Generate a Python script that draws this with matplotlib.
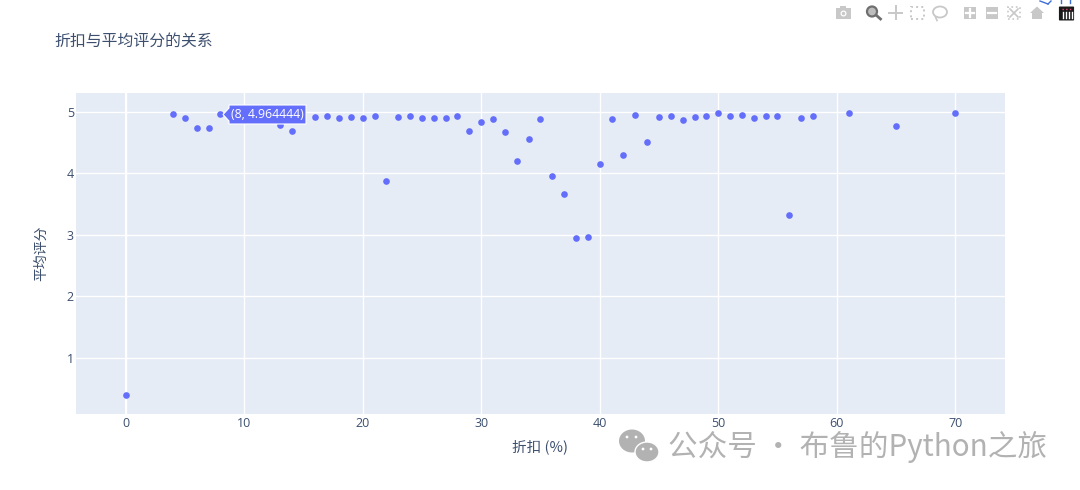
import matplotlib
matplotlib.use("Agg")
import matplotlib.pyplot as plt
from matplotlib.patches import Polygon, Rectangle, Ellipse, FancyBboxPatch
from matplotlib.lines import Line2D

plt.rcParams['font.family'] = ['Noto Sans CJK SC', 'DejaVu Sans']

discount = [0, 4, 5, 6, 7, 8, 13, 14, 16, 17, 18, 19, 20, 21, 22, 23, 24, 25, 26, 27, 28,
            29, 30, 31, 32, 33, 34, 35, 36, 37, 38, 39, 40, 41, 42, 43, 44, 45, 46, 47, 48,
            49, 50, 51, 52, 53, 54, 55, 56, 57, 58, 61, 65, 70]
rating = [0.40, 4.97, 4.90, 4.74, 4.74, 4.964444, 4.79, 4.69, 4.92, 4.93, 4.90, 4.92, 4.90,
          4.94, 3.87, 4.92, 4.93, 4.91, 4.91, 4.91, 4.94, 4.69, 4.83, 4.88, 4.68, 4.20, 4.56,
          4.88, 3.96, 3.67, 2.95, 2.96, 4.16, 4.89, 4.30, 4.95, 4.51, 4.92, 4.94, 4.87, 4.92,
          4.93, 4.99, 4.93, 4.95, 4.91, 4.94, 4.93, 3.32, 4.91, 4.93, 4.99, 4.78, 4.99]
x_ticks = [0, 10, 20, 30, 40, 50, 60, 70]
y_ticks = [1, 2, 3, 4, 5]
title = "折扣与平均评分的关系"
x_label = "折扣 (%)"
y_label = "平均评分"
tooltip = "(8, 4.964444)"
watermark = "公众号 · 布鲁的Python之旅"

W, H = 1080, 490
INK = "#3c4f6e"
MARK = "#636efa"
fig = plt.figure(figsize=(W / 100, H / 100), dpi=100, facecolor="white")
ax = fig.add_axes([76 / W, 1 - 414 / H, (1005 - 76) / W, (414 - 93) / H], facecolor="#e5ecf6")
ax.set_xlim(-4.19, 74.2)
ax.set_ylim(0.083, 5.31)
ax.set_xticks(x_ticks)
ax.set_yticks(y_ticks)
ax.grid(True, color="white", linewidth=1)
ax.set_axisbelow(True)
ax.axvline(0, color="white", linewidth=1.5, zorder=1)
for s in ax.spines.values():
    s.set_visible(False)
ax.tick_params(axis="x", length=0, labelsize=9, labelcolor=INK, pad=2)
ax.tick_params(axis="y", length=0, labelsize=9, labelcolor=INK, pad=1.5)
for lab in ax.get_xticklabels() + ax.get_yticklabels():
    lab.set_family("Open Sans")
ax.scatter(discount, rating, s=23, color=MARK, linewidths=0, zorder=3)


def fx(px):
    return px / W


def fy(py):
    return 1 - py / H


def disc(px, py, w, h, fc, ec="none", lw=1.0, z=5):
    fig.add_artist(Ellipse((fx(px), fy(py)), w / W, h / H, transform=fig.transFigure,
                           facecolor=fc, edgecolor=ec, linewidth=lw, zorder=z))


fig.text(fx(54), fy(41), title, fontsize=11.4, color=INK, va="center", ha="left")
fig.text(fx(540.5), fy(447), x_label, fontsize=10.5, color=INK, va="center", ha="center")
fig.text(fx(41), fy(253), y_label, fontsize=10, color=INK, va="center", ha="center", rotation=90)

# hover label
fig.add_artist(Polygon([(fx(223), fy(114.5)), (fx(229), fy(108)), (fx(229), fy(105)), (fx(306), fy(105)),
                        (fx(306), fy(124)), (fx(229), fy(124)), (fx(229), fy(121))],
                       closed=True, transform=fig.transFigure, facecolor=MARK, edgecolor="white",
                       linewidth=0.8, zorder=5))
fig.text(fx(267.5), fy(114.5), tooltip, fontsize=8.8, color="white", va="center", ha="center", zorder=6,
         family="Open Sans")

# watermark
G = "#b2b2b2"
fig.text(fx(668), fy(447), watermark, fontsize=21.3, color=G, va="center", ha="left", zorder=6)
disc(632, 441, 26, 23, G)
disc(647, 452, 24, 20, G, "white", 1.0)
for px, py in [(627, 437), (636, 437), (643, 449), (651, 449)]:
    disc(px, py, 2.8, 2.8, "white", z=6)

# modebar
T = "#c8c8c8"
D = "#6f6f6f"


def rect(x0, y0, x1, y1, fc, ec="none", ls="-", lw=1.0):
    fig.add_artist(Rectangle((fx(x0), fy(y1)), (x1 - x0) / W, (y1 - y0) / H, transform=fig.transFigure,
                             facecolor=fc, edgecolor=ec, linestyle=ls, linewidth=lw))


def seg(x0, y0, x1, y1, c, lw=1.2, ls="-"):
    fig.add_artist(Line2D([fx(x0), fx(x1)], [fy(y0), fy(y1)], transform=fig.transFigure, color=c,
                          linewidth=lw, linestyle=ls))


rect(836, 8, 851, 19, T)
rect(840, 6.5, 846, 8.5, T)
disc(843.5, 13.5, 6, 6, "white", z=3)
disc(843.5, 13.5, 3.5, 3.5, T, z=3)
disc(872, 11.5, 10, 10, "#bdbdbd", D, 1.6)
seg(876, 15, 880.5, 19, D, 2)
seg(889, 13, 902, 13, T, 1.4)
seg(895.5, 6.5, 895.5, 19.5, T, 1.4)
rect(911, 7, 924, 19, "none", T, ":", 1.4)
disc(940, 12, 14, 11, "none", T, 1.3)
seg(935.5, 17, 937, 20.5, T, 1.2)
rect(964, 7, 976, 19, T)
seg(966, 13, 974, 13, "white", 1.6)
seg(970, 9, 970, 17, "white", 1.6)
rect(986, 7, 998, 19, T)
seg(988, 13, 996, 13, "white", 1.6)
rect(1008, 7, 1020, 19, "none", T, ":", 1.2)
seg(1010, 9, 1018, 17, T, 1.2)
seg(1018, 9, 1010, 17, T, 1.2)
fig.add_artist(Polygon([(fx(1030), fy(13)), (fx(1037), fy(6.5)), (fx(1044), fy(13)), (fx(1042), fy(13)),
                        (fx(1042), fy(19)), (fx(1032), fy(19)), (fx(1032), fy(13))],
                       closed=True, transform=fig.transFigure, facecolor=T, edgecolor="none"))
fig.add_artist(FancyBboxPatch((fx(1060), fy(20)), 13 / W, 13 / H, boxstyle="round,pad=0.001",
                              transform=fig.transFigure, facecolor="#1a1a1a", edgecolor="none"))
for px in (1063, 1066, 1069, 1072):
    seg(px, 12, px, 18, "white", 1.0)
seg(1062, 9, 1072, 9, "#e0457b", 1.0, ":")
seg(1040, 1, 1048, 4, "#3d6fd8", 1.0)
seg(1048, 4, 1051, 1, "#3d6fd8", 1.0)
seg(1061, 0, 1061, 3, "#3d6fd8", 1.0)
seg(1070, 0, 1070, 3, "#3d6fd8", 1.0)

fig.savefig("out.png", dpi=100, facecolor="white")
